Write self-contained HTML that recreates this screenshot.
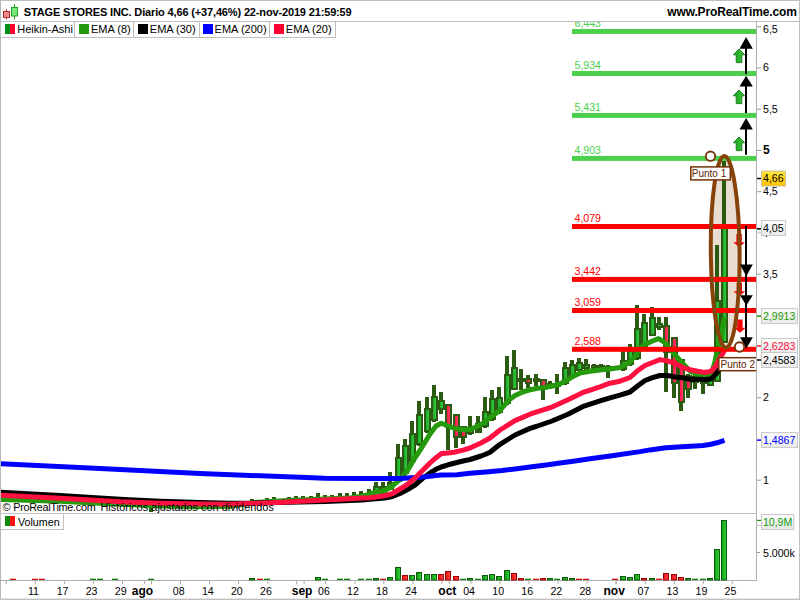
<!DOCTYPE html>
<html><head><meta charset="utf-8"><title>STAGE STORES INC.</title>
<style>
html,body{margin:0;padding:0;background:#fff;}
body{width:800px;height:600px;overflow:hidden;font-family:"Liberation Sans",sans-serif;}
svg{display:block;}
svg text{font-family:"Liberation Sans",sans-serif;font-size:10.6px;}
</style></head><body>
<svg width="800" height="600" viewBox="0 0 800 600">
<defs>
<linearGradient id="gg" x1="0" x2="1" y1="0" y2="0"><stop offset="0" stop-color="#1ea828"/><stop offset="1" stop-color="#2ccc3c"/></linearGradient>
<linearGradient id="gr" x1="0" x2="1" y1="0" y2="0"><stop offset="0" stop-color="#ff1448"/><stop offset="1" stop-color="#ff3a6c"/></linearGradient>
<linearGradient id="vg" x1="0" x2="1" y1="0" y2="0"><stop offset="0" stop-color="#0f9a12"/><stop offset="1" stop-color="#38d23c"/></linearGradient>
<linearGradient id="vr" x1="0" x2="1" y1="0" y2="0"><stop offset="0" stop-color="#f01010"/><stop offset="1" stop-color="#ff4a4a"/></linearGradient>
<linearGradient id="ga" x1="0" x2="1" y1="0" y2="0"><stop offset="0" stop-color="#1f9f1f"/><stop offset="1" stop-color="#3cc83c"/></linearGradient>
<linearGradient id="gold" x1="0" x2="0" y1="0" y2="1"><stop offset="0" stop-color="#ffe53d"/><stop offset="1" stop-color="#ffc300"/></linearGradient>
<linearGradient id="lb" x1="0" x2="0" y1="0" y2="1"><stop offset="0" stop-color="#fbfbfb"/><stop offset="1" stop-color="#e9e9e9"/></linearGradient>
<clipPath id="cp"><rect x="1" y="22" width="755" height="491"/></clipPath>
</defs>
<rect x="0" y="0" width="800" height="600" fill="#fff"/>
<!-- frame lines -->
<rect x="0" y="0" width="800" height="1" fill="#c0c0c0"/>
<rect x="0" y="0" width="1" height="600" fill="#b8b8b8"/>
<rect x="0" y="21" width="800" height="1" fill="#c0c0c0"/>
<rect x="0" y="513" width="757" height="1" fill="#c0c0c0"/>
<rect x="799" y="0" width="1" height="600" fill="#c0c0c0"/>
<rect x="756" y="21" width="1" height="560" fill="#b0b0b0"/>
<rect x="0" y="580" width="757" height="1" fill="#b0b0b0"/>
<rect x="0" y="598.6" width="800" height="1.4" fill="#c0c0c0"/>
<!-- title -->
<g id="ticon">
<line x1="6.5" y1="9" x2="6.5" y2="19.5" stroke="#b03030" stroke-width="1"/>
<rect x="3.5" y="11.5" width="6" height="6" fill="#f08a8a" stroke="#b03030" stroke-width="1"/>
<line x1="14.5" y1="4" x2="14.5" y2="19.5" stroke="#20a020" stroke-width="1"/>
<rect x="11.5" y="7.5" width="6" height="8.5" fill="#78e878" stroke="#20a020" stroke-width="1"/>
</g>
<text x="23.8" y="15.5" font-weight="bold" style="font-size:11px;letter-spacing:-0.15px">STAGE STORES INC. Diario 4,66 (+37,46%) 22-nov-2019 21:59:59</text>
<text x="796.8" y="15.5" font-weight="bold" text-anchor="end" style="font-size:12px;letter-spacing:-0.13px">www.ProRealTime.com</text>
<g clip-path="url(#cp)">
<ellipse cx="725.2" cy="251.8" rx="14.4" ry="95.8" fill="#e9dcd0" stroke="none" transform="rotate(-0.5 725.2 251.8)"/>
<!-- candles -->
<rect x="-4" y="498" width="4" height="4" fill="#2b5a12"/>
<rect x="-5" y="498" width="7" height="4" fill="#2b5a12"/>
<rect x="4" y="498" width="4" height="4" fill="#2b5a12"/>
<rect x="3" y="498" width="7" height="4" fill="#2b5a12"/>
<rect x="11" y="498" width="4" height="4" fill="#2b5a12"/>
<rect x="10" y="498" width="7" height="4" fill="#2b5a12"/>
<rect x="18" y="499" width="4" height="3" fill="#2b5a12"/>
<rect x="17" y="499" width="7" height="3" fill="#2b5a12"/>
<rect x="25" y="499" width="4" height="3" fill="#2b5a12"/>
<rect x="24" y="499" width="7" height="3" fill="#2b5a12"/>
<rect x="33" y="499" width="4" height="4" fill="#2b5a12"/>
<rect x="32" y="499" width="7" height="4" fill="#2b5a12"/>
<rect x="40" y="499" width="4" height="4" fill="#2b5a12"/>
<rect x="39" y="499" width="7" height="4" fill="#2b5a12"/>
<rect x="47" y="499" width="4" height="4" fill="#2b5a12"/>
<rect x="46" y="499" width="7" height="4" fill="#2b5a12"/>
<rect x="54" y="500" width="4" height="3" fill="#2b5a12"/>
<rect x="53" y="500" width="7" height="3" fill="#2b5a12"/>
<rect x="62" y="500" width="4" height="3" fill="#2b5a12"/>
<rect x="61" y="500" width="7" height="3" fill="#2b5a12"/>
<rect x="69" y="500" width="4" height="4" fill="#2b5a12"/>
<rect x="68" y="500" width="7" height="4" fill="#2b5a12"/>
<rect x="76" y="501" width="4" height="3" fill="#2b5a12"/>
<rect x="75" y="501" width="7" height="3" fill="#2b5a12"/>
<rect x="83" y="501" width="4" height="4" fill="#2b5a12"/>
<rect x="82" y="501" width="7" height="4" fill="#2b5a12"/>
<rect x="91" y="501" width="4" height="4" fill="#2b5a12"/>
<rect x="90" y="501" width="7" height="4" fill="#2b5a12"/>
<rect x="98" y="502" width="4" height="3" fill="#2b5a12"/>
<rect x="97" y="502" width="7" height="3" fill="#2b5a12"/>
<rect x="105" y="502" width="4" height="4" fill="#2b5a12"/>
<rect x="104" y="502" width="7" height="4" fill="#2b5a12"/>
<rect x="113" y="503" width="4" height="3" fill="#2b5a12"/>
<rect x="112" y="503" width="7" height="3" fill="#2b5a12"/>
<rect x="120" y="503" width="4" height="3" fill="#2b5a12"/>
<rect x="119" y="503" width="7" height="3" fill="#2b5a12"/>
<rect x="127" y="503" width="4" height="4" fill="#2b5a12"/>
<rect x="126" y="503" width="7" height="4" fill="#2b5a12"/>
<rect x="134" y="503" width="4" height="4" fill="#2b5a12"/>
<rect x="133" y="503" width="7" height="4" fill="#2b5a12"/>
<rect x="142" y="504" width="4" height="3" fill="#2b5a12"/>
<rect x="141" y="504" width="7" height="3" fill="#2b5a12"/>
<rect x="149" y="504" width="4" height="8" fill="#2b5a12"/>
<rect x="148" y="504" width="7" height="4" fill="#2b5a12"/>
<rect x="156" y="504" width="4" height="4" fill="#2b5a12"/>
<rect x="155" y="504" width="7" height="4" fill="#2b5a12"/>
<rect x="163" y="505" width="4" height="3" fill="#2b5a12"/>
<rect x="162" y="505" width="7" height="3" fill="#2b5a12"/>
<rect x="171" y="505" width="4" height="3" fill="#2b5a12"/>
<rect x="170" y="505" width="7" height="3" fill="#2b5a12"/>
<rect x="178" y="505" width="4" height="3" fill="#2b5a12"/>
<rect x="177" y="505" width="7" height="3" fill="#2b5a12"/>
<rect x="185" y="505" width="4" height="3" fill="#2b5a12"/>
<rect x="184" y="505" width="7" height="3" fill="#2b5a12"/>
<rect x="192" y="505" width="4" height="4" fill="#2b5a12"/>
<rect x="191" y="505" width="7" height="4" fill="#2b5a12"/>
<rect x="200" y="505" width="4" height="4" fill="#2b5a12"/>
<rect x="199" y="505" width="7" height="4" fill="#2b5a12"/>
<rect x="207" y="505" width="4" height="4" fill="#2b5a12"/>
<rect x="206" y="505" width="7" height="4" fill="#2b5a12"/>
<rect x="214" y="505" width="4" height="3" fill="#2b5a12"/>
<rect x="213" y="505" width="7" height="3" fill="#2b5a12"/>
<rect x="221" y="505" width="4" height="3" fill="#2b5a12"/>
<rect x="220" y="505" width="7" height="3" fill="#2b5a12"/>
<rect x="229" y="505" width="4" height="3" fill="#2b5a12"/>
<rect x="228" y="505" width="7" height="3" fill="#2b5a12"/>
<rect x="236" y="504" width="4" height="3" fill="#2b5a12"/>
<rect x="235" y="504" width="7" height="3" fill="#2b5a12"/>
<rect x="243" y="503" width="4" height="3" fill="#2b5a12"/>
<rect x="242" y="503" width="7" height="3" fill="#2b5a12"/>
<rect x="250" y="499" width="4" height="6" fill="#2b5a12"/>
<rect x="249" y="501" width="7" height="4" fill="#2b5a12"/>
<rect x="258" y="501" width="4" height="3" fill="#2b5a12"/>
<rect x="257" y="501" width="7" height="3" fill="#2b5a12"/>
<rect x="265" y="498" width="4" height="6" fill="#2b5a12"/>
<rect x="264" y="500" width="7" height="4" fill="#2b5a12"/>
<rect x="272" y="497" width="4" height="6" fill="#2b5a12"/>
<rect x="271" y="500" width="7" height="3" fill="#2b5a12"/>
<rect x="279" y="499" width="4" height="4" fill="#2b5a12"/>
<rect x="278" y="499" width="7" height="4" fill="#2b5a12"/>
<rect x="287" y="497" width="4" height="5" fill="#2b5a12"/>
<rect x="286" y="499" width="7" height="3" fill="#2b5a12"/>
<rect x="294" y="496" width="4" height="6" fill="#2b5a12"/>
<rect x="293" y="499" width="7" height="3" fill="#2b5a12"/>
<rect x="301" y="496" width="4" height="6" fill="#2b5a12"/>
<rect x="300" y="498" width="7" height="4" fill="#2b5a12"/>
<rect x="309" y="496" width="4" height="6" fill="#2b5a12"/>
<rect x="308" y="498" width="7" height="4" fill="#2b5a12"/>
<rect x="316" y="493" width="4" height="8" fill="#2b5a12"/>
<rect x="315" y="498" width="7" height="3" fill="#2b5a12"/>
<rect x="323" y="495" width="4" height="6" fill="#2b5a12"/>
<rect x="322" y="497" width="7" height="4" fill="#2b5a12"/>
<rect x="330" y="495" width="4" height="6" fill="#2b5a12"/>
<rect x="329" y="497" width="7" height="4" fill="#2b5a12"/>
<rect x="338" y="493" width="4" height="7" fill="#2b5a12"/>
<rect x="337" y="497" width="7" height="3" fill="#2b5a12"/>
<rect x="345" y="493" width="4" height="7" fill="#2b5a12"/>
<rect x="344" y="497" width="7" height="3" fill="#2b5a12"/>
<rect x="352" y="492" width="4" height="7" fill="#2b5a12"/>
<rect x="351" y="496" width="7" height="3" fill="#2b5a12"/>
<rect x="359" y="491" width="4" height="7" fill="#2b5a12"/>
<rect x="358" y="495" width="7" height="3" fill="#2b5a12"/>
<rect x="367" y="489" width="4" height="7" fill="#2b5a12"/>
<rect x="366" y="493" width="7" height="3" fill="#2b5a12"/>
<rect x="374" y="482" width="4" height="12" fill="#2b5a12"/>
<rect x="373" y="486" width="7" height="8" fill="#2b5a12"/>
<rect x="375" y="488" width="3" height="4" fill="url(#gg)"/>
<rect x="381" y="482" width="4" height="12" fill="#2b5a12"/>
<rect x="380" y="486" width="7" height="8" fill="#2b5a12"/>
<rect x="382" y="488" width="3" height="4" fill="url(#gg)"/>
<rect x="388" y="472" width="4" height="18" fill="#2b5a12"/>
<rect x="387" y="482" width="7" height="8" fill="#2b5a12"/>
<rect x="389" y="484" width="3" height="4" fill="url(#gg)"/>
<rect x="396" y="444" width="4" height="38" fill="#2b5a12"/>
<rect x="395" y="457" width="7" height="25" fill="#2b5a12"/>
<rect x="397" y="459" width="3" height="21" fill="url(#gg)"/>
<rect x="403" y="439" width="4" height="35" fill="#2b5a12"/>
<rect x="402" y="445" width="7" height="29" fill="#2b5a12"/>
<rect x="404" y="447" width="3" height="25" fill="url(#gg)"/>
<rect x="410" y="421" width="4" height="41" fill="#2b5a12"/>
<rect x="409" y="433" width="7" height="29" fill="#2b5a12"/>
<rect x="411" y="435" width="3" height="25" fill="url(#gg)"/>
<rect x="417" y="401" width="4" height="45" fill="#2b5a12"/>
<rect x="416" y="414" width="7" height="31" fill="#2b5a12"/>
<rect x="418" y="416" width="3" height="27" fill="url(#gg)"/>
<rect x="425" y="397" width="4" height="36" fill="#2b5a12"/>
<rect x="424" y="408" width="7" height="24" fill="#2b5a12"/>
<rect x="426" y="410" width="3" height="20" fill="url(#gg)"/>
<rect x="432" y="385" width="4" height="37" fill="#2b5a12"/>
<rect x="431" y="396" width="7" height="25" fill="#2b5a12"/>
<rect x="433" y="398" width="3" height="21" fill="url(#gg)"/>
<rect x="439" y="392" width="4" height="22" fill="#2b5a12"/>
<rect x="438" y="400" width="7" height="10" fill="#2b5a12"/>
<rect x="440" y="402" width="3" height="6" fill="url(#gg)"/>
<rect x="446" y="404" width="4" height="46" fill="#2b5a12"/>
<rect x="445" y="404" width="7" height="24" fill="#2b5a12"/>
<rect x="447" y="406" width="3" height="20" fill="url(#gr)"/>
<rect x="454" y="414" width="4" height="34" fill="#2b5a12"/>
<rect x="453" y="414" width="7" height="24" fill="#2b5a12"/>
<rect x="455" y="416" width="3" height="20" fill="url(#gr)"/>
<rect x="461" y="426" width="4" height="18" fill="#2b5a12"/>
<rect x="460" y="426" width="7" height="12" fill="#2b5a12"/>
<rect x="462" y="428" width="3" height="8" fill="url(#gr)"/>
<rect x="468" y="416" width="4" height="19" fill="#2b5a12"/>
<rect x="467" y="427" width="7" height="7" fill="#2b5a12"/>
<rect x="469" y="429" width="3" height="3" fill="url(#gg)"/>
<rect x="476" y="416" width="4" height="17" fill="#2b5a12"/>
<rect x="475" y="423" width="7" height="10" fill="#2b5a12"/>
<rect x="483" y="397" width="4" height="31" fill="#2b5a12"/>
<rect x="482" y="411" width="7" height="16" fill="#2b5a12"/>
<rect x="484" y="413" width="3" height="12" fill="url(#gg)"/>
<rect x="490" y="390" width="4" height="31" fill="#2b5a12"/>
<rect x="489" y="398" width="7" height="22" fill="#2b5a12"/>
<rect x="491" y="400" width="3" height="18" fill="url(#gg)"/>
<rect x="497" y="387" width="4" height="27" fill="#2b5a12"/>
<rect x="496" y="397" width="7" height="16" fill="#2b5a12"/>
<rect x="498" y="399" width="3" height="12" fill="url(#gg)"/>
<rect x="505" y="356" width="4" height="49" fill="#2b5a12"/>
<rect x="504" y="374" width="7" height="30" fill="#2b5a12"/>
<rect x="506" y="376" width="3" height="26" fill="url(#gg)"/>
<rect x="512" y="350" width="4" height="40" fill="#2b5a12"/>
<rect x="511" y="367" width="7" height="23" fill="#2b5a12"/>
<rect x="513" y="369" width="3" height="19" fill="url(#gg)"/>
<rect x="519" y="369" width="4" height="21" fill="#2b5a12"/>
<rect x="518" y="378" width="7" height="4" fill="#2b5a12"/>
<rect x="526" y="375" width="4" height="13" fill="#2b5a12"/>
<rect x="525" y="378" width="7" height="6" fill="#2b5a12"/>
<rect x="527" y="380" width="3" height="2" fill="url(#gr)"/>
<rect x="534" y="374" width="4" height="12" fill="#2b5a12"/>
<rect x="533" y="378" width="7" height="4" fill="#2b5a12"/>
<rect x="541" y="379" width="4" height="21" fill="#2b5a12"/>
<rect x="540" y="379" width="7" height="8" fill="#2b5a12"/>
<rect x="542" y="381" width="3" height="4" fill="url(#gr)"/>
<rect x="548" y="381" width="4" height="8" fill="#2b5a12"/>
<rect x="547" y="383" width="7" height="5" fill="#2b5a12"/>
<rect x="555" y="374" width="4" height="20" fill="#2b5a12"/>
<rect x="554" y="385" width="7" height="2" fill="#2b5a12"/>
<rect x="563" y="362" width="4" height="23" fill="#2b5a12"/>
<rect x="562" y="367" width="7" height="17" fill="#2b5a12"/>
<rect x="564" y="369" width="3" height="13" fill="url(#gg)"/>
<rect x="570" y="360" width="4" height="18" fill="#2b5a12"/>
<rect x="569" y="364" width="7" height="13" fill="#2b5a12"/>
<rect x="571" y="366" width="3" height="9" fill="url(#gg)"/>
<rect x="577" y="358" width="4" height="13" fill="#2b5a12"/>
<rect x="576" y="362" width="7" height="9" fill="#2b5a12"/>
<rect x="578" y="364" width="3" height="5" fill="url(#gg)"/>
<rect x="584" y="359" width="4" height="11" fill="#2b5a12"/>
<rect x="583" y="364" width="7" height="5" fill="#2b5a12"/>
<rect x="585" y="366" width="3" height="1" fill="url(#gg)"/>
<rect x="592" y="364" width="4" height="6" fill="#2b5a12"/>
<rect x="591" y="365" width="7" height="4" fill="#2b5a12"/>
<rect x="599" y="364" width="4" height="5" fill="#2b5a12"/>
<rect x="598" y="365" width="7" height="3" fill="#2b5a12"/>
<rect x="606" y="365" width="4" height="13" fill="#2b5a12"/>
<rect x="605" y="366" width="7" height="3" fill="#2b5a12"/>
<rect x="613" y="366" width="4" height="4" fill="#2b5a12"/>
<rect x="612" y="367" width="7" height="2" fill="#2b5a12"/>
<rect x="621" y="350" width="4" height="21" fill="#2b5a12"/>
<rect x="620" y="360" width="7" height="10" fill="#2b5a12"/>
<rect x="622" y="362" width="3" height="6" fill="url(#gg)"/>
<rect x="628" y="344" width="4" height="22" fill="#2b5a12"/>
<rect x="627" y="350" width="7" height="15" fill="#2b5a12"/>
<rect x="629" y="352" width="3" height="11" fill="url(#gg)"/>
<rect x="635" y="305" width="4" height="55" fill="#2b5a12"/>
<rect x="634" y="328" width="7" height="31" fill="#2b5a12"/>
<rect x="636" y="330" width="3" height="27" fill="url(#gg)"/>
<rect x="642" y="314" width="4" height="35" fill="#2b5a12"/>
<rect x="641" y="322" width="7" height="26" fill="#2b5a12"/>
<rect x="643" y="324" width="3" height="22" fill="url(#gg)"/>
<rect x="650" y="307" width="4" height="29" fill="#2b5a12"/>
<rect x="649" y="317" width="7" height="19" fill="#2b5a12"/>
<rect x="651" y="319" width="3" height="15" fill="url(#gg)"/>
<rect x="657" y="317" width="4" height="13" fill="#2b5a12"/>
<rect x="656" y="323" width="7" height="5" fill="#2b5a12"/>
<rect x="658" y="325" width="3" height="1" fill="url(#gg)"/>
<rect x="664" y="317" width="4" height="75" fill="#2b5a12"/>
<rect x="663" y="325" width="7" height="28" fill="#2b5a12"/>
<rect x="665" y="327" width="3" height="24" fill="url(#gr)"/>
<rect x="672" y="337" width="4" height="61" fill="#2b5a12"/>
<rect x="671" y="337" width="7" height="47" fill="#2b5a12"/>
<rect x="673" y="339" width="3" height="43" fill="url(#gr)"/>
<rect x="679" y="359" width="4" height="52" fill="#2b5a12"/>
<rect x="678" y="359" width="7" height="44" fill="#2b5a12"/>
<rect x="680" y="361" width="3" height="40" fill="url(#gr)"/>
<rect x="686" y="374" width="4" height="24" fill="#2b5a12"/>
<rect x="685" y="375" width="7" height="15" fill="#2b5a12"/>
<rect x="687" y="377" width="3" height="11" fill="url(#gr)"/>
<rect x="693" y="375" width="4" height="14" fill="#2b5a12"/>
<rect x="692" y="376" width="7" height="7" fill="#2b5a12"/>
<rect x="694" y="378" width="3" height="3" fill="url(#gg)"/>
<rect x="701" y="374" width="4" height="20" fill="#2b5a12"/>
<rect x="700" y="375" width="7" height="9" fill="#2b5a12"/>
<rect x="702" y="377" width="3" height="5" fill="url(#gg)"/>
<rect x="708" y="371" width="4" height="15" fill="#2b5a12"/>
<rect x="707" y="372" width="7" height="14" fill="#2b5a12"/>
<rect x="709" y="374" width="3" height="10" fill="url(#gg)"/>
<rect x="715" y="245" width="4" height="137" fill="#2b5a12"/>
<rect x="714" y="300" width="7" height="82" fill="#2b5a12"/>
<rect x="716" y="302" width="3" height="78" fill="url(#gg)"/>
<rect x="722" y="161" width="4" height="182" fill="#2b5a12"/>
<rect x="721" y="226" width="7" height="117" fill="#2b5a12"/>
<rect x="723" y="228" width="3" height="113" fill="url(#gg)"/>
<!-- EMAs -->
<polyline points="0.0,499.5 60.0,501.3 120.0,504.3 160.0,506.0 200.0,506.7 230.0,506.3 245.0,504.3 255.0,502.5 287.0,500.5 325.0,499.0 350.0,498.0 362.0,496.3 370.0,493.8 378.0,491.8 385.0,490.5 392.5,486.0 400.0,479.2 407.5,470.5 415.0,457.8 422.5,446.3 430.0,434.0 436.0,426.0 441.2,423.3 448.0,426.0 454.0,428.2 463.0,429.8 470.0,429.5 477.5,426.3 480.0,425.0 485.0,421.8 490.0,417.5 495.0,414.0 500.0,410.5 505.0,404.5 510.0,399.2 515.0,395.5 520.0,393.2 522.5,392.0 530.0,389.8 537.5,388.2 545.0,387.5 552.5,386.0 560.0,383.8 567.5,380.0 572.0,377.0 580.0,373.0 590.0,371.3 600.0,370.0 610.0,369.0 620.0,367.5 630.0,362.0 635.0,356.0 640.0,348.5 645.0,344.5 652.5,341.0 658.5,338.7 664.5,342.4 670.5,349.6 675.0,355.0 682.5,363.2 690.0,371.0 697.5,375.0 705.0,375.7 709.5,374.8 712.5,370.0 714.8,362.5 717.0,352.0 720.0,340.0 722.2,329.5 724.5,317.5" fill="none" stroke="#259a0c" stroke-width="5" stroke-linejoin="round" stroke-linecap="butt"/>
<polyline points="0.0,492.3 60.0,495.5 120.0,499.2 160.0,501.2 200.0,502.6 230.0,503.2 250.0,503.2 325.0,501.5 362.5,500.0 370.0,499.2 385.0,498.0 392.5,496.5 400.0,493.5 407.5,489.5 415.0,485.0 422.5,478.5 430.0,473.0 436.0,469.3 441.2,467.0 448.0,464.8 454.0,463.3 463.0,461.0 470.0,459.5 481.0,456.0 485.0,454.5 490.0,452.3 500.0,444.3 515.0,435.0 530.0,428.4 536.0,426.5 552.0,421.0 568.0,414.2 584.0,406.1 600.0,400.9 610.0,397.8 620.0,395.2 630.0,392.0 637.5,386.0 645.0,380.5 652.5,377.7 660.0,375.5 667.5,375.5 675.0,377.0 682.5,377.8 690.0,379.2 697.5,379.2 705.0,379.6 711.0,379.0 715.5,374.5 720.0,368.5 724.5,359.0" fill="none" stroke="#000000" stroke-width="5" stroke-linejoin="round" stroke-linecap="butt"/>
<polyline points="0.0,463.7 100.0,468.5 200.0,473.5 250.0,475.4 300.0,477.3 325.0,478.2 360.0,478.6 400.0,478.4 415.0,477.4 425.0,476.8 441.0,474.9 457.0,474.7 470.0,473.3 486.0,471.9 502.0,470.5 515.0,469.0 530.0,467.0 546.0,465.0 560.0,463.0 575.0,460.9 590.0,458.8 612.0,455.7 640.0,451.6 650.0,449.9 666.0,447.8 682.0,446.7 695.0,445.9 703.0,445.5 711.0,444.3 717.0,442.8 724.5,440.4" fill="none" stroke="#0000ff" stroke-width="5" stroke-linejoin="round" stroke-linecap="butt"/>
<polyline points="0.0,495.3 60.0,498.3 120.0,501.8 160.0,503.2 200.0,504.1 230.0,504.2 250.0,503.6 287.5,501.9 325.0,500.0 350.0,498.8 362.5,498.0 370.0,497.8 385.0,495.8 392.5,493.5 400.0,489.0 407.5,484.4 415.0,478.0 422.5,470.5 430.0,463.0 436.0,457.7 441.5,453.6 448.0,452.9 454.0,452.2 463.0,450.1 470.0,448.0 481.0,443.0 485.0,440.8 490.0,438.0 500.0,430.0 515.0,420.6 530.0,414.2 536.0,412.2 552.0,407.1 568.0,399.8 584.0,392.1 600.0,386.9 610.0,383.2 620.0,381.2 630.0,377.5 637.5,370.8 645.0,365.5 652.5,362.5 660.0,359.6 667.5,361.0 675.0,363.2 682.5,367.3 690.0,369.7 697.5,371.3 705.0,372.5 711.0,371.3 715.5,366.5 720.0,358.0 723.8,352.0 724.5,347.0" fill="none" stroke="#ff1040" stroke-width="5" stroke-linejoin="round" stroke-linecap="butt"/>
<!-- levels -->
<rect x="572" y="29.0" width="184.5" height="5" fill="#4cd04c"/>
<text x="574.5" y="27.4" style="font-size:10.6px" fill="#4cd04c">6,443</text>
<rect x="572" y="71.0" width="184.5" height="5" fill="#4cd04c"/>
<text x="574.5" y="69.4" style="font-size:10.6px" fill="#4cd04c">5,934</text>
<rect x="572" y="112.9" width="184.5" height="5" fill="#4cd04c"/>
<text x="574.5" y="111.3" style="font-size:10.6px" fill="#4cd04c">5,431</text>
<rect x="572" y="155.9" width="184.5" height="5" fill="#4cd04c"/>
<text x="574.5" y="154.3" style="font-size:10.6px" fill="#4cd04c">4,903</text>
<rect x="572" y="224.0" width="184.5" height="5" fill="#ff0000"/>
<text x="574.5" y="222.4" style="font-size:10.6px" fill="#ff0000">4,079</text>
<rect x="572" y="276.9" width="184.5" height="5" fill="#ff0000"/>
<text x="574.5" y="275.3" style="font-size:10.6px" fill="#ff0000">3,442</text>
<rect x="572" y="308.0" width="184.5" height="5" fill="#ff0000"/>
<text x="574.5" y="306.4" style="font-size:10.6px" fill="#ff0000">3,059</text>
<rect x="572" y="346.8" width="184.5" height="5" fill="#ff0000"/>
<text x="574.5" y="345.2" style="font-size:10.6px" fill="#ff0000">2,588</text>
<!-- ellipse -->
<polygon points="736.4,234.0 741.8,234.0 741.8,242.2 745.0,242.2 739.2,247.2 733.2,242.2 736.4,242.2" fill="#f40606"/>
<polygon points="736.6,283.0 742.0,283.0 742.0,291.2 745.2,291.2 739.4,296.2 733.4,291.2 736.6,291.2" fill="#f40606"/>
<polygon points="737.2,319.5 742.6,319.5 742.6,327.7 745.8,327.7 740.0,332.7 734.0,327.7 737.2,327.7" fill="#f40606"/>
<ellipse cx="725.2" cy="251.8" rx="14.4" ry="95.8" fill="none" stroke="#864208" stroke-width="4" transform="rotate(-0.5 725.2 251.8)"/>
<rect x="745" y="47.8" width="2" height="26.2" fill="#000"/>
<polygon points="746.1,37.0 739.5,48.8 752.8,48.8" fill="#000"/>
<rect x="745" y="85.5" width="2" height="27.5" fill="#000"/>
<polygon points="746.1,75.7 739.5,86.5 752.8,86.5" fill="#000"/>
<rect x="745" y="128.5" width="2" height="26.3" fill="#000"/>
<polygon points="746.1,118.0 739.5,129.5 752.8,129.5" fill="#000"/>
<polygon points="739,49.0 733.3,54.8 736.2,54.8 736.2,62.6 741.8,62.6 741.8,54.8 744.7,54.8" fill="url(#ga)" stroke="#167a16" stroke-width="0.9" stroke-linejoin="miter"/>
<polygon points="739,90.0 733.3,95.8 736.2,95.8 736.2,103.6 741.8,103.6 741.8,95.8 744.7,95.8" fill="url(#ga)" stroke="#167a16" stroke-width="0.9" stroke-linejoin="miter"/>
<polygon points="739,137.0 733.3,142.8 736.2,142.8 736.2,150.6 741.8,150.6 741.8,142.8 744.7,142.8" fill="url(#ga)" stroke="#167a16" stroke-width="0.9" stroke-linejoin="miter"/>
<rect x="745" y="226" width="2" height="114" fill="#000"/>
<polygon points="746.3,276.3 740,264.5 752.8,264.5" fill="#000"/>
<polygon points="746.3,305.6 740,295.2 752.8,295.2" fill="#000"/>
<polygon points="746.3,348.4 740,337.2 752.8,337.2" fill="#000"/>
<circle cx="710.5" cy="156.2" r="4.7" fill="#fff" stroke="#7a3608" stroke-width="1.9"/>
<circle cx="739.5" cy="347" r="4.7" fill="#fff" stroke="#7a3608" stroke-width="1.9"/>
<rect x="690.8" y="166.9" width="39.5" height="13" fill="#fff" stroke="#733205" stroke-width="1.5"/>
<text x="691.8" y="177" fill="#5e2400" style="font-size:10px">Punto 1</text>
<rect x="718.8" y="357.7" width="40" height="13" fill="#fff" stroke="#733205" stroke-width="1.5"/>
<text x="720.5" y="367.9" fill="#5e2400" style="font-size:10px">Punto 2</text>
</g>
<!-- legend -->
<g id="legend">
<rect x="0.5" y="21.5" width="74" height="16" fill="#fff" stroke="#c0c0c0"/>
<rect x="74.5" y="21.5" width="59" height="16" fill="#fff" stroke="#c0c0c0"/>
<rect x="133.5" y="21.5" width="66" height="16" fill="#fff" stroke="#c0c0c0"/>
<rect x="199.5" y="21.5" width="70" height="16" fill="#fff" stroke="#c0c0c0"/>
<rect x="269.5" y="21.5" width="66" height="16" fill="#fff" stroke="#c0c0c0"/>
<rect x="5" y="24" width="5" height="10" fill="#009018"/><rect x="10" y="24" width="5" height="10" fill="#ff0033"/>
<text x="17.3" y="32.6" style="font-size:11px">Heikin-Ashi</text>
<rect x="79" y="24" width="10" height="10" fill="#259a0c"/>
<text x="91" y="32.6" style="font-size:11px">EMA (8)</text>
<rect x="138" y="24" width="10" height="10" fill="#000"/>
<text x="149.8" y="32.6" style="font-size:11px">EMA (30)</text>
<rect x="203" y="24" width="10" height="10" fill="#0000ff"/>
<text x="214.6" y="32.6" style="font-size:11px">EMA (200)</text>
<rect x="274" y="24" width="10" height="10" fill="#ff0030"/>
<text x="285.8" y="32.6" style="font-size:11px">EMA (20)</text>
</g>
<text x="2.6" y="510.8" style="font-size:11px">©</text>
<text x="13.2" y="510.8" style="font-size:10.85px" textLength="82.6" lengthAdjust="spacing">ProRealTime.com</text>
<text x="100.4" y="510.8" style="font-size:10.85px" textLength="173.4" lengthAdjust="spacing">Históricos ajustados con dividendos</text>
<!-- right axis -->
<line x1="757" y1="26.8" x2="761" y2="26.8" stroke="#999" stroke-width="1"/>
<text x="763" y="32.6">6,5</text>
<line x1="757" y1="68.0" x2="761" y2="68.0" stroke="#999" stroke-width="1"/>
<text x="763" y="71.4">6</text>
<line x1="757" y1="109.2" x2="761" y2="109.2" stroke="#999" stroke-width="1"/>
<text x="763" y="112.6">5,5</text>
<line x1="757" y1="150.5" x2="761" y2="150.5" stroke="#999" stroke-width="1"/>
<text x="763" y="153.9" font-weight="bold" style="font-size:12px">5</text>
<line x1="757" y1="191.7" x2="761" y2="191.7" stroke="#999" stroke-width="1"/>
<text x="763" y="195.1">4,5</text>
<line x1="757" y1="274.1" x2="761" y2="274.1" stroke="#999" stroke-width="1"/>
<text x="763" y="277.5">3,5</text>
<line x1="757" y1="397.8" x2="761" y2="397.8" stroke="#999" stroke-width="1"/>
<text x="763" y="401.2">2</text>
<line x1="757" y1="480.2" x2="761" y2="480.2" stroke="#999" stroke-width="1"/>
<text x="763" y="483.6">1</text>
<line x1="757" y1="232.9" x2="761" y2="232.9" stroke="#c0c0c0"/>
<rect x="761.5" y="220.5" width="24.0" height="15" fill="url(#lb)" stroke="#c8c8c8" stroke-width="1"/>
<line x1="757" y1="228.8" x2="761" y2="228.8" stroke="#000" stroke-width="1.5"/>
<text x="763" y="231.8" fill="#000">4,05</text>
<rect x="765.8" y="235.8" width="1.2" height="1.2" fill="#222"/>
<rect x="761.5" y="308.6" width="36.0" height="15" fill="url(#lb)" stroke="#c8c8c8" stroke-width="1"/>
<line x1="757" y1="316.1" x2="761" y2="316.1" stroke="#229a00" stroke-width="1.5"/>
<text x="763" y="319.9" fill="#229a00">2,9913</text>
<rect x="761.5" y="338.5" width="36.0" height="15" fill="url(#lb)" stroke="#c8c8c8" stroke-width="1"/>
<line x1="757" y1="346.0" x2="761" y2="346.0" stroke="#ff1040" stroke-width="1.5"/>
<text x="763" y="349.8" fill="#ff1040">2,6283</text>
<rect x="761.5" y="352.5" width="36.0" height="15" fill="url(#lb)" stroke="#c8c8c8" stroke-width="1"/>
<line x1="757" y1="360.0" x2="761" y2="360.0" stroke="#000" stroke-width="1.5"/>
<text x="763" y="363.8" fill="#000">2,4583</text>
<rect x="761.5" y="432.6" width="36.0" height="15" fill="url(#lb)" stroke="#c8c8c8" stroke-width="1"/>
<line x1="757" y1="440.1" x2="761" y2="440.1" stroke="#0000ff" stroke-width="1.5"/>
<text x="763" y="443.9" fill="#0000ff">1,4867</text>
<rect x="761.5" y="171.0" width="24.0" height="15" fill="url(#gold)" stroke="#c8c0a0" stroke-width="1"/>
<line x1="757" y1="178.5" x2="761" y2="178.5" stroke="#000" stroke-width="1.5"/>
<text x="763" y="182.3" fill="#000">4,66</text>
<!-- volume panel -->
<rect x="0.5" y="513.5" width="63" height="16" fill="#fff" stroke="#c0c0c0"/>
<rect x="5" y="516" width="5" height="10" fill="#0a8a0a"/><rect x="10" y="516" width="5" height="10" fill="#ff1010"/>
<text x="18" y="525.5" style="font-size:10.7px">Volumen</text>
<rect x="10" y="578.7" width="6" height="1.3" fill="#d01010"/>
<rect x="32" y="578.7" width="6" height="1.3" fill="#d01010"/>
<rect x="39" y="578.7" width="6" height="1.3" fill="#d01010"/>
<rect x="90" y="578.7" width="6" height="1.3" fill="#0c7a0c"/>
<rect x="97" y="578.7" width="6" height="1.3" fill="#0c7a0c"/>
<rect x="112" y="578.7" width="6" height="1.3" fill="#0c7a0c"/>
<rect x="148" y="578.7" width="6" height="1.3" fill="#0c7a0c"/>
<rect x="249.5" y="578.5" width="5" height="1.5" fill="url(#vg)" stroke="#0a5a0a" stroke-width="1"/>
<rect x="257" y="578.7" width="6" height="1.3" fill="#d01010"/>
<rect x="264" y="578.7" width="6" height="1.3" fill="#0c7a0c"/>
<rect x="315.5" y="577.5" width="5" height="2.5" fill="url(#vg)" stroke="#0a5a0a" stroke-width="1"/>
<rect x="322" y="578.7" width="6" height="1.3" fill="#0c7a0c"/>
<rect x="337" y="578.7" width="6" height="1.3" fill="#0c7a0c"/>
<rect x="344" y="578.7" width="6" height="1.3" fill="#0c7a0c"/>
<rect x="358" y="578.7" width="6" height="1.3" fill="#0c7a0c"/>
<rect x="366" y="578.7" width="6" height="1.3" fill="#0c7a0c"/>
<rect x="373.5" y="578.5" width="5" height="1.5" fill="url(#vg)" stroke="#0a5a0a" stroke-width="1"/>
<rect x="380" y="578.7" width="6" height="1.3" fill="#d01010"/>
<rect x="387.5" y="577.5" width="5" height="2.5" fill="url(#vg)" stroke="#0a5a0a" stroke-width="1"/>
<rect x="395.5" y="567.5" width="5" height="12.5" fill="url(#vg)" stroke="#0a5a0a" stroke-width="1"/>
<rect x="402.5" y="575.5" width="5" height="4.5" fill="url(#vr)" stroke="#a00000" stroke-width="1"/>
<rect x="409.5" y="575.5" width="5" height="4.5" fill="url(#vg)" stroke="#0a5a0a" stroke-width="1"/>
<rect x="416.5" y="572.5" width="5" height="7.5" fill="url(#vg)" stroke="#0a5a0a" stroke-width="1"/>
<rect x="424.5" y="574.5" width="5" height="5.5" fill="url(#vg)" stroke="#0a5a0a" stroke-width="1"/>
<rect x="431.5" y="574.5" width="5" height="5.5" fill="url(#vg)" stroke="#0a5a0a" stroke-width="1"/>
<rect x="438.5" y="574.5" width="5" height="5.5" fill="url(#vr)" stroke="#a00000" stroke-width="1"/>
<rect x="445.5" y="571.5" width="5" height="8.5" fill="url(#vr)" stroke="#a00000" stroke-width="1"/>
<rect x="453.5" y="576.5" width="5" height="3.5" fill="url(#vr)" stroke="#a00000" stroke-width="1"/>
<rect x="460" y="578.7" width="6" height="1.3" fill="#0c7a0c"/>
<rect x="467.5" y="578.5" width="5" height="1.5" fill="url(#vg)" stroke="#0a5a0a" stroke-width="1"/>
<rect x="475" y="578.7" width="6" height="1.3" fill="#0c7a0c"/>
<rect x="482.5" y="575.5" width="5" height="4.5" fill="url(#vg)" stroke="#0a5a0a" stroke-width="1"/>
<rect x="489.5" y="574.5" width="5" height="5.5" fill="url(#vg)" stroke="#0a5a0a" stroke-width="1"/>
<rect x="496.5" y="576.5" width="5" height="3.5" fill="url(#vg)" stroke="#0a5a0a" stroke-width="1"/>
<rect x="504.5" y="570.5" width="5" height="9.5" fill="url(#vg)" stroke="#0a5a0a" stroke-width="1"/>
<rect x="511.5" y="573.5" width="5" height="6.5" fill="url(#vr)" stroke="#a00000" stroke-width="1"/>
<rect x="518.5" y="578.5" width="5" height="1.5" fill="url(#vr)" stroke="#a00000" stroke-width="1"/>
<rect x="525" y="578.7" width="6" height="1.3" fill="#0c7a0c"/>
<rect x="533" y="578.7" width="6" height="1.3" fill="#d01010"/>
<rect x="540.5" y="578.5" width="5" height="1.5" fill="url(#vr)" stroke="#a00000" stroke-width="1"/>
<rect x="547.5" y="578.5" width="5" height="1.5" fill="url(#vg)" stroke="#0a5a0a" stroke-width="1"/>
<rect x="554" y="578.7" width="6" height="1.3" fill="#0c7a0c"/>
<rect x="562.5" y="577.5" width="5" height="2.5" fill="url(#vg)" stroke="#0a5a0a" stroke-width="1"/>
<rect x="569.5" y="578.5" width="5" height="1.5" fill="url(#vg)" stroke="#0a5a0a" stroke-width="1"/>
<rect x="576" y="578.7" width="6" height="1.3" fill="#d01010"/>
<rect x="583" y="578.7" width="6" height="1.3" fill="#d01010"/>
<rect x="612" y="578.7" width="6" height="1.3" fill="#d01010"/>
<rect x="620.5" y="576.5" width="5" height="3.5" fill="url(#vg)" stroke="#0a5a0a" stroke-width="1"/>
<rect x="627.5" y="577.5" width="5" height="2.5" fill="url(#vg)" stroke="#0a5a0a" stroke-width="1"/>
<rect x="634.5" y="574.5" width="5" height="5.5" fill="url(#vg)" stroke="#0a5a0a" stroke-width="1"/>
<rect x="641.5" y="578.5" width="5" height="1.5" fill="url(#vr)" stroke="#a00000" stroke-width="1"/>
<rect x="649.5" y="578.5" width="5" height="1.5" fill="url(#vg)" stroke="#0a5a0a" stroke-width="1"/>
<rect x="656" y="578.7" width="6" height="1.3" fill="#d01010"/>
<rect x="663.5" y="573.5" width="5" height="6.5" fill="url(#vr)" stroke="#a00000" stroke-width="1"/>
<rect x="671.5" y="574.5" width="5" height="5.5" fill="url(#vr)" stroke="#a00000" stroke-width="1"/>
<rect x="678.5" y="577.5" width="5" height="2.5" fill="url(#vr)" stroke="#a00000" stroke-width="1"/>
<rect x="685.5" y="578.5" width="5" height="1.5" fill="url(#vg)" stroke="#0a5a0a" stroke-width="1"/>
<rect x="692" y="578.7" width="6" height="1.3" fill="#0c7a0c"/>
<rect x="700" y="578.7" width="6" height="1.3" fill="#0c7a0c"/>
<rect x="707.5" y="578.5" width="5" height="1.5" fill="url(#vg)" stroke="#0a5a0a" stroke-width="1"/>
<rect x="714.5" y="549.5" width="5" height="30.5" fill="url(#vg)" stroke="#0a5a0a" stroke-width="1"/>
<rect x="721.5" y="520.5" width="5" height="59.5" fill="url(#vg)" stroke="#0a5a0a" stroke-width="1"/>
<line x1="757" y1="552.5" x2="760" y2="552.5" stroke="#999"/>
<text x="763" y="556.5">5.000k</text>
<line x1="757" y1="525.3" x2="761" y2="525.3" stroke="#c8c8c8"/>
<rect x="761.5" y="514.5" width="32.3" height="15" fill="url(#lb)" stroke="#c8c8c8"/>
<line x1="757" y1="520.4" x2="761" y2="520.4" stroke="#0a9a0a" stroke-width="1.2"/>
<text x="762.9" y="525.7" fill="#0a9a0a">10,9M</text>
<line x1="732.3" y1="581" x2="732.3" y2="584" stroke="#aaa" stroke-width="1"/>
<text x="730.5" y="594.7" text-anchor="middle">25</text>
<line x1="703.3" y1="581" x2="703.3" y2="584" stroke="#aaa" stroke-width="1"/>
<text x="701.5" y="594.7" text-anchor="middle">19</text>
<line x1="674.2" y1="581" x2="674.2" y2="584" stroke="#aaa" stroke-width="1"/>
<text x="672.4" y="594.7" text-anchor="middle">13</text>
<line x1="645.2" y1="581" x2="645.2" y2="584" stroke="#aaa" stroke-width="1"/>
<text x="643.4" y="594.7" text-anchor="middle">07</text>
<line x1="616.1" y1="581" x2="616.1" y2="584" stroke="#aaa" stroke-width="1"/>
<line x1="587.1" y1="581" x2="587.1" y2="584" stroke="#aaa" stroke-width="1"/>
<text x="585.3" y="594.7" text-anchor="middle">28</text>
<line x1="558.1" y1="581" x2="558.1" y2="584" stroke="#aaa" stroke-width="1"/>
<text x="556.3" y="594.7" text-anchor="middle">22</text>
<line x1="529.0" y1="581" x2="529.0" y2="584" stroke="#aaa" stroke-width="1"/>
<text x="527.2" y="594.7" text-anchor="middle">16</text>
<line x1="500.0" y1="581" x2="500.0" y2="584" stroke="#aaa" stroke-width="1"/>
<text x="498.2" y="594.7" text-anchor="middle">10</text>
<line x1="470.9" y1="581" x2="470.9" y2="584" stroke="#aaa" stroke-width="1"/>
<text x="469.1" y="594.7" text-anchor="middle">04</text>
<line x1="441.9" y1="581" x2="441.9" y2="584" stroke="#aaa" stroke-width="1"/>
<line x1="412.9" y1="581" x2="412.9" y2="584" stroke="#aaa" stroke-width="1"/>
<text x="411.1" y="594.7" text-anchor="middle">24</text>
<line x1="383.8" y1="581" x2="383.8" y2="584" stroke="#aaa" stroke-width="1"/>
<text x="382.0" y="594.7" text-anchor="middle">18</text>
<line x1="354.8" y1="581" x2="354.8" y2="584" stroke="#aaa" stroke-width="1"/>
<text x="353.0" y="594.7" text-anchor="middle">12</text>
<line x1="325.7" y1="581" x2="325.7" y2="584" stroke="#aaa" stroke-width="1"/>
<text x="323.9" y="594.7" text-anchor="middle">06</text>
<line x1="296.7" y1="581" x2="296.7" y2="584" stroke="#aaa" stroke-width="1"/>
<line x1="267.7" y1="581" x2="267.7" y2="584" stroke="#aaa" stroke-width="1"/>
<text x="265.9" y="594.7" text-anchor="middle">26</text>
<line x1="238.6" y1="581" x2="238.6" y2="584" stroke="#aaa" stroke-width="1"/>
<text x="236.8" y="594.7" text-anchor="middle">20</text>
<line x1="209.6" y1="581" x2="209.6" y2="584" stroke="#aaa" stroke-width="1"/>
<text x="207.8" y="594.7" text-anchor="middle">14</text>
<line x1="180.5" y1="581" x2="180.5" y2="584" stroke="#aaa" stroke-width="1"/>
<text x="178.7" y="594.7" text-anchor="middle">08</text>
<line x1="151.5" y1="581" x2="151.5" y2="584" stroke="#aaa" stroke-width="1"/>
<line x1="122.5" y1="581" x2="122.5" y2="584" stroke="#aaa" stroke-width="1"/>
<text x="120.7" y="594.7" text-anchor="middle">29</text>
<line x1="93.4" y1="581" x2="93.4" y2="584" stroke="#aaa" stroke-width="1"/>
<text x="91.6" y="594.7" text-anchor="middle">23</text>
<line x1="64.4" y1="581" x2="64.4" y2="584" stroke="#aaa" stroke-width="1"/>
<text x="62.6" y="594.7" text-anchor="middle">17</text>
<line x1="35.3" y1="581" x2="35.3" y2="584" stroke="#aaa" stroke-width="1"/>
<text x="33.5" y="594.7" text-anchor="middle">11</text>
<line x1="6.3" y1="581" x2="6.3" y2="584" stroke="#aaa" stroke-width="1"/>
<line x1="144.4" y1="581" x2="144.4" y2="584" stroke="#aaa" stroke-width="1"/>
<text x="142.4" y="594.7" text-anchor="middle" font-weight="bold" style="font-size:12px">ago</text>
<line x1="304.1" y1="581" x2="304.1" y2="584" stroke="#aaa" stroke-width="1"/>
<text x="302.1" y="594.7" text-anchor="middle" font-weight="bold" style="font-size:12px">sep</text>
<line x1="449.3" y1="581" x2="449.3" y2="584" stroke="#aaa" stroke-width="1"/>
<text x="447.3" y="594.7" text-anchor="middle" font-weight="bold" style="font-size:12px">oct</text>
<line x1="616.2" y1="581" x2="616.2" y2="584" stroke="#aaa" stroke-width="1"/>
<text x="614.2" y="594.7" text-anchor="middle" font-weight="bold" style="font-size:12px">nov</text>
</svg>
</body></html>
